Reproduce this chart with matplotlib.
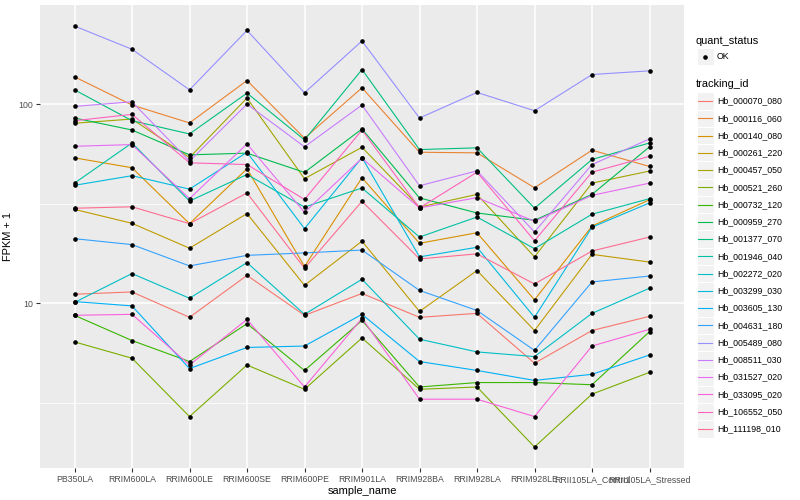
import numpy as np
import matplotlib
matplotlib.use('Agg')
import matplotlib.pyplot as plt
from matplotlib.lines import Line2D
from matplotlib.patches import Rectangle
from matplotlib.ticker import FixedLocator, NullFormatter

plt.rcParams['font.family'] = ['Liberation Sans', 'DejaVu Sans']

# samples on the x axis
samples = ['PB350LA', 'RRIM600LA', 'RRIM600LE', 'RRIM600SE', 'RRIM600PE', 'RRIM901LA',
           'RRIM928BA', 'RRIM928LA', 'RRIM928LE', 'RRII105LA_Control', 'RRII105LA_Stressed']

# FPKM + 1 per gene
hb_000070_080 = [11.1, 11.4, 8.5, 13.8, 8.7, 11.2, 8.5, 8.9, 5.0, 7.3, 8.6]
hb_000116_060 = [137.0, 98.9, 80.4, 131.3, 67.4, 120.7, 57.3, 56.9, 38.0, 58.7, 48.6]
hb_000140_080 = [53.7, 47.9, 25.1, 47.3, 15.3, 42.7, 20.0, 22.6, 10.4, 24.4, 33.1]
hb_000261_220 = [29.6, 25.2, 18.9, 28.2, 12.3, 20.5, 9.1, 14.6, 7.3, 17.6, 16.1]
hb_000457_050 = [80.1, 84.1, 53.9, 107.2, 42.2, 60.7, 30.4, 35.2, 17.1, 40.1, 46.1]
hb_000521_260 = [6.4, 5.3, 2.7, 4.9, 3.7, 6.7, 3.7, 3.8, 1.9, 3.5, 4.5]
hb_000732_120 = [8.7, 6.5, 5.1, 7.9, 4.6, 8.2, 3.8, 4.0, 4.0, 3.9, 7.2]
hb_000959_270 = [85.1, 74.1, 55.6, 56.7, 45.4, 75.0, 33.8, 28.4, 26.1, 35.2, 61.0]
hb_001377_070 = [117.9, 82.5, 70.8, 113.5, 66.1, 149.1, 59.1, 60.3, 30.0, 52.7, 63.8]
hb_001946_040 = [40.1, 63.8, 32.6, 44.3, 30.4, 37.9, 21.5, 27.1, 18.8, 28.0, 33.5]
hb_002272_020 = [10.1, 14.1, 10.6, 16.0, 8.8, 13.2, 6.6, 5.7, 5.4, 8.9, 11.9]
hb_003299_030 = [39.1, 43.7, 37.4, 57.3, 23.7, 53.9, 17.1, 19.1, 8.5, 24.1, 31.9]
hb_003605_130 = [10.2, 9.7, 4.7, 6.0, 6.1, 8.8, 5.1, 4.6, 4.1, 4.4, 5.5]
hb_004631_180 = [21.1, 19.7, 15.4, 17.4, 17.9, 18.5, 11.6, 9.2, 5.8, 12.8, 13.7]
hb_005489_080 = [246.4, 188.4, 117.9, 234.4, 113.9, 207.4, 85.1, 114.4, 92.6, 140.7, 146.8]
hb_008511_030 = [97.3, 102.7, 51.7, 100.0, 61.0, 98.9, 38.9, 46.2, 22.8, 49.7, 66.8]
hb_031527_020 = [61.4, 62.6, 33.5, 63.1, 28.6, 53.5, 30.1, 33.9, 25.8, 34.8, 40.1]
hb_033095_020 = [8.7, 8.8, 4.9, 8.3, 3.8, 8.4, 3.3, 3.3, 2.7, 6.1, 7.4]
hb_106552_050 = [82.5, 88.8, 50.7, 49.7, 33.2, 74.1, 30.1, 45.5, 20.6, 45.5, 54.7]
hb_111198_010 = [30.0, 30.5, 25.1, 35.8, 15.0, 32.5, 16.7, 17.7, 12.5, 18.3, 21.5]

tracking_ids = ['Hb_000070_080', 'Hb_000116_060', 'Hb_000140_080', 'Hb_000261_220',
                'Hb_000457_050', 'Hb_000521_260', 'Hb_000732_120', 'Hb_000959_270',
                'Hb_001377_070', 'Hb_001946_040', 'Hb_002272_020', 'Hb_003299_030',
                'Hb_003605_130', 'Hb_004631_180', 'Hb_005489_080', 'Hb_008511_030',
                'Hb_031527_020', 'Hb_033095_020', 'Hb_106552_050', 'Hb_111198_010']
series = [hb_000070_080, hb_000116_060, hb_000140_080, hb_000261_220, hb_000457_050,
          hb_000521_260, hb_000732_120, hb_000959_270, hb_001377_070, hb_001946_040,
          hb_002272_020, hb_003299_030, hb_003605_130, hb_004631_180, hb_005489_080,
          hb_008511_030, hb_031527_020, hb_033095_020, hb_106552_050, hb_111198_010]

# ggplot hue palette, 20 levels
colors = ['#F8766D', '#EA8331', '#D89000', '#C09B00', '#A3A500', '#7CAE00', '#39B600',
          '#00BB4E', '#00BF7D', '#00C1A3', '#00BFC4', '#00BAE0', '#00B0F6', '#35A2FF',
          '#9590FF', '#C77CFF', '#E76BF3', '#FA62DB', '#FF62BC', '#FF6C91']

W, H = 800, 500
fig = plt.figure(figsize=(W / 100, H / 100), dpi=100)
fig.patch.set_facecolor('white')


def fx(px):
    return px / W


def fy(py):
    return 1 - py / H


ax = fig.add_axes([fx(40), fy(468), (684 - 40) / W, (468 - 5) / H])
ax.set_facecolor('#EBEBEB')

x = np.arange(len(samples))
for vals, c in zip(series, colors):
    ax.plot(x, vals, color=c, lw=0.8, zorder=2, solid_capstyle='butt')
for vals in series:
    ax.plot(x, vals, 'o', color='black', ms=2.3, zorder=3)

# log scale with 5% expansion like ggplot
ax.set_yscale('log')
allv = np.concatenate([np.array(v) for v in series])
lo, hi = np.log10(allv.min()), np.log10(allv.max())
pad = 0.05 * (hi - lo)
ax.set_ylim(10 ** (lo - pad), 10 ** (hi + pad))
ax.set_xlim(-0.6, len(samples) - 0.4)

ax.set_yticks([10, 100])
ax.set_yticklabels(['10', '100'])
ax.yaxis.set_minor_locator(FixedLocator([10 ** 0.5, 10 ** 1.5, 10 ** 2.5]))
ax.yaxis.set_minor_formatter(NullFormatter())
ax.set_xticks(x)
ax.set_xticklabels(samples)

ax.grid(which='major', color='white', lw=1.1)
ax.grid(which='minor', axis='y', color='white', lw=0.55)
ax.set_axisbelow(True)
for s in ax.spines.values():
    s.set_visible(False)
ax.tick_params(which='major', length=3, width=0.8, color='#333333',
               labelcolor='#4D4D4D', labelsize=6.3, pad=2)
ax.tick_params(which='minor', length=0)

ax.set_xlabel('sample_name', fontsize=7.9, labelpad=1.5)
ax.set_ylabel('FPKM + 1', fontsize=7.9, labelpad=4)

# legends drawn by hand, ggplot style
key = 17.3
fig.text(fx(696), fy(40.7), 'quant_status', fontsize=7.9, va='center', ha='left')
fig.add_artist(Rectangle((fx(696.5), fy(56.7 + key / 2)), key / W, key / H,
                         transform=fig.transFigure, facecolor='#F2F2F2',
                         edgecolor='white', lw=0.8))
fig.add_artist(Line2D([fx(696.5 + key / 2)], [fy(56.7)], marker='o', ms=2.3,
                      color='black', transform=fig.transFigure))
fig.text(fx(717), fy(56.7), 'OK', fontsize=6.3, va='center', ha='left')

fig.text(fx(696), fy(84), 'tracking_id', fontsize=7.9, va='center', ha='left')
for i, (name, c) in enumerate(zip(tracking_ids, colors)):
    yc = 101 + i * 17.26
    fig.add_artist(Rectangle((fx(696.5), fy(yc + key / 2)), key / W, key / H,
                             transform=fig.transFigure, facecolor='#F2F2F2',
                             edgecolor='white', lw=0.8))
    fig.add_artist(Line2D([fx(698.2), fx(712.1)], [fy(yc), fy(yc)], color=c, lw=0.8,
                          transform=fig.transFigure))
    fig.text(fx(717), fy(yc), name, fontsize=6.3, va='center', ha='left')

fig.savefig('out.png', dpi=100)
